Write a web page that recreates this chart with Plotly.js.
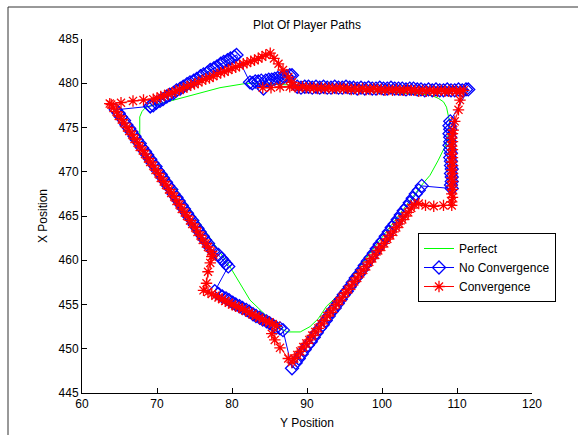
<!DOCTYPE html>
<html>
<head>
<meta charset="utf-8">
<script src="https://cdn.plot.ly/plotly-3.0.1.min.js"></script>
<style>
html,body{margin:0;padding:0;background:#fff;}
#chart{width:578px;height:435px;}
</style>
</head>
<body>
<div id="chart"></div>
<script>
// ---- data ----
const seriesNames = ["Perfect", "No Convergence", "Convergence"];

const perfectX = [67.7,67.7,67.7,68.0,68.4,69.0,70.0,74.0,78.4,82.0,88.0,98.0,102.8,106.4,107.5,108.2,108.6,108.8,109.0,108.9,108.6,107.5,106.4,105.3,94.2,92.6,91.5,90.4,89.1,87.3,86.2,85.1,83.7,82.4,79.7,67.7];
const perfectY = [474.0,475.2,476.2,476.8,477.2,477.45,477.6,478.5,479.5,480.0,479.8,479.1,478.9,478.7,478.3,477.9,477.3,476.6,475.7,474.5,473.2,471.3,469.6,468.5,456.1,454.8,453.4,452.5,451.9,451.9,452.5,453.3,454.4,455.5,459.3,474.0];

const noConvX = [
 69.1,69.5,69.9,70.4,70.8,71.3,71.7,72.2,72.6,73.1,73.5,74.0,74.4,74.9,75.3,75.8,76.2,76.7,77.1,77.6,78.0,78.5,78.9,79.4,79.8,80.3,80.6,
 82.4,82.7,83.1,83.5,83.9,84.2,84.5,84.9,85.3,85.7,86.1,86.5,86.9,87.3,87.7,88.0,
 88.7,89.2,89.7,90.2,90.7,91.2,91.7,92.2,92.7,93.2,93.7,94.2,94.7,95.2,95.7,96.2,96.7,97.2,97.7,98.2,98.7,99.2,99.7,100.2,100.7,101.2,101.7,102.2,102.7,103.2,103.7,104.2,104.7,105.2,105.7,106.2,106.7,107.2,107.7,108.2,108.7,109.2,109.7,110.2,110.7,111.2,111.5,
 109.1,109.0,109.1,109.0,109.1,109.1,109.0,109.1,109.2,109.1,109.2,109.2,109.3,109.2,109.3,109.3,109.2,109.3,
 105.3,104.9,104.5,104.1,103.7,103.3,102.9,102.5,102.1,101.7,101.3,100.9,100.5,100.1,99.7,99.3,98.9,98.5,98.1,97.7,97.3,96.9,96.5,96.1,95.7,95.3,94.9,94.5,94.1,93.7,93.3,92.9,92.5,92.1,91.7,91.3,90.9,90.5,90.1,89.7,89.3,88.9,88.5,88.0,
 86.8,86.4,85.9,85.5,85.0,84.6,84.1,83.7,83.2,82.8,82.3,81.9,81.4,81.0,80.5,80.1,79.6,79.2,78.7,78.2,77.7,
 79.5,79.2,78.9,78.6,78.2,
 77.5,77.1,76.8,76.4,76.1,75.7,75.4,75.0,74.7,74.3,74.0,73.6,73.3,72.9,72.6,72.2,71.9,71.5,71.2,70.8,70.5,70.1,69.8,69.4,69.1,68.7,68.4,68.0,67.7,67.3,67.0,66.6,66.3,65.9,65.6,65.2,64.9,64.5,
 69.1];
const noConvY = [
 477.4,477.5,477.8,478.0,478.2,478.5,478.7,478.9,479.2,479.4,479.6,479.9,480.1,480.3,480.5,480.8,481.0,481.2,481.5,481.7,481.9,482.2,482.4,482.6,482.8,483.0,483.2,
 480.1,480.0,480.2,480.2,480.3,479.4,480.3,480.4,480.4,480.5,480.6,480.6,480.7,480.8,480.9,480.9,
 479.6,479.5,479.6,479.6,479.5,479.6,479.5,479.6,479.5,479.5,479.6,479.5,479.5,479.6,479.5,479.5,479.4,479.5,479.4,479.5,479.4,479.4,479.5,479.4,479.4,479.5,479.4,479.4,479.4,479.3,479.4,479.4,479.3,479.3,479.2,479.3,479.2,479.3,479.2,479.2,479.3,479.2,479.2,479.3,479.2,479.3,479.3,
 475.7,475.2,474.8,474.3,473.9,473.4,473.0,472.5,472.1,471.6,471.2,470.7,470.3,469.8,469.4,468.9,468.5,468.1,
 468.4,467.9,467.5,467.0,466.5,466.0,465.6,465.1,464.6,464.1,463.7,463.2,462.7,462.2,461.8,461.3,460.8,460.3,459.9,459.4,458.9,458.4,458.0,457.5,457.0,456.5,456.1,455.6,455.1,454.6,454.2,453.7,453.2,452.7,452.3,451.8,451.3,450.8,450.4,449.9,449.4,448.9,448.4,447.8,
 452.1,452.3,452.4,452.6,452.9,453.1,453.3,453.5,453.7,453.9,454.2,454.4,454.6,454.8,455.0,455.2,455.5,455.7,455.9,456.2,456.5,
 459.3,459.6,459.9,460.2,460.6,
 461.0,461.4,461.9,462.3,462.7,463.2,463.6,464.0,464.5,464.9,465.3,465.8,466.2,466.7,467.1,467.5,468.0,468.4,468.8,469.3,469.7,470.1,470.6,471.0,471.4,471.9,472.3,472.7,473.2,473.6,474.0,474.5,474.9,475.3,475.8,476.2,476.6,477.0,
 477.4];

const convX = [
 63.7,65.2,66.8,68.2,69.5,
 70.0,70.5,71.0,71.5,72.0,72.5,73.0,73.5,74.0,74.5,75.0,75.5,76.0,76.5,77.0,77.5,78.0,78.5,79.0,79.5,80.0,80.5,81.0,81.5,82.0,82.5,83.0,83.5,84.0,84.5,85.1,
 85.6,86.2,86.8,87.5,88.0,
 87.7,86.4,85.2,84.1,
 88.4,88.9,89.4,89.9,90.4,90.9,91.4,91.9,92.4,92.9,93.4,93.9,94.4,94.9,95.4,95.9,96.4,96.9,97.4,97.9,98.4,98.9,99.4,99.9,100.4,100.9,101.4,101.9,102.4,102.9,103.4,103.9,104.4,104.9,105.4,105.9,106.4,106.9,107.4,107.9,108.4,108.9,109.4,109.9,110.4,110.9,
 110.4,110.2,109.7,109.5,
 109.4,109.3,109.4,109.3,109.4,109.3,109.4,109.3,109.4,109.3,109.4,109.3,109.4,109.3,109.4,109.3,109.4,109.3,109.3,
 108.2,106.9,105.8,104.9,
 104.3,103.9,103.5,103.1,102.7,102.3,101.9,101.5,101.1,100.7,100.3,99.9,99.5,99.1,98.7,98.3,97.9,97.5,97.1,96.7,96.3,95.9,95.5,95.1,94.7,94.3,93.9,93.5,93.1,92.7,92.3,91.9,91.5,91.1,90.7,90.3,89.9,89.5,89.1,88.7,88.3,88.0,
 87.5,86.4,85.7,85.3,
 85.9,85.4,85.0,84.5,84.1,83.6,83.2,82.7,82.3,81.8,81.4,80.9,80.5,80.0,79.6,79.1,78.7,78.2,77.8,77.3,76.8,76.2,
 76.6,76.8,77.1,77.3,
 77.5,77.2,76.8,76.5,76.1,75.8,75.4,75.1,74.7,74.4,74.0,73.7,73.3,73.0,72.6,72.3,71.9,71.6,71.2,70.9,70.5,70.2,69.8,69.5,69.1,68.8,68.4,68.1,67.7,67.4,67.0,66.7,66.3,66.0,65.6,65.3,64.9,64.6,64.2,63.9];
const convY = [
 477.7,477.8,478.0,478.1,478.2,
 478.3,478.5,478.6,478.8,478.9,479.1,479.3,479.4,479.6,479.8,479.9,480.1,480.3,480.5,480.6,480.8,481.0,481.2,481.3,481.5,481.7,481.8,482.0,482.2,482.3,482.5,482.6,482.8,483.0,483.2,483.4,
 482.8,482.2,481.5,480.7,480.1,
 479.6,479.6,479.5,479.5,
 479.6,479.5,479.6,479.5,479.5,479.5,479.4,479.5,479.4,479.5,479.4,479.4,479.5,479.4,479.4,479.3,479.4,479.3,479.4,479.3,479.3,479.4,479.3,479.3,479.2,479.3,479.2,479.3,479.2,479.2,479.3,479.2,479.2,479.1,479.2,479.1,479.2,479.1,479.1,479.2,479.1,479.1,479.2,479.1,479.1,479.2,
 478.1,477.0,475.7,474.7,
 474.3,473.8,473.4,472.9,472.5,472.0,471.6,471.1,470.7,470.2,469.8,469.3,468.9,468.4,468.0,467.5,467.1,466.6,466.2,
 466.2,466.1,466.2,466.4,
 466.3,465.9,465.4,465.0,464.6,464.1,463.7,463.2,462.8,462.4,461.9,461.5,461.1,460.6,460.2,459.8,459.3,458.9,458.5,458.0,457.6,457.1,456.7,456.3,455.8,455.4,455.0,454.5,454.1,453.7,453.2,452.8,452.3,451.9,451.5,451.0,450.6,450.2,449.7,449.3,448.9,448.5,
 448.9,450.1,451.0,451.7,
 452.6,452.8,453.0,453.1,453.3,453.5,453.7,453.9,454.1,454.3,454.5,454.7,454.8,455.0,455.2,455.4,455.6,455.8,456.0,456.2,456.4,456.6,
 457.4,458.7,459.7,460.4,
 460.6,461.0,461.5,461.9,462.3,462.8,463.2,463.7,464.1,464.5,465.0,465.4,465.8,466.3,466.7,467.2,467.6,468.0,468.5,468.9,469.3,469.8,470.2,470.7,471.1,471.5,472.0,472.4,472.8,473.3,473.7,474.2,474.6,475.0,475.5,475.9,476.3,476.8,477.2,477.6];

const xTicks = [60,70,80,90,100,110,120];
const yTicks = [445,450,455,460,465,470,475,480,485];

// ---- chart ----
const FONT = '"Liberation Sans", Arial, sans-serif';
const traces = [
  {x: perfectX, y: perfectY, name: seriesNames[0], mode: 'lines', type: 'scatter',
   line: {color: '#00ff00', width: 1}},
  {x: noConvX, y: noConvY, name: seriesNames[1], mode: 'lines+markers', type: 'scatter',
   line: {color: '#0000ff', width: 1},
   marker: {symbol: 'diamond-open', size: 10, color: '#0000ff', line: {width: 1.3, color: '#0000ff'}}},
  {x: convX, y: convY, name: seriesNames[2], mode: 'lines+markers', type: 'scatter',
   line: {color: '#ff0000', width: 1},
   marker: {symbol: 'asterisk-open', size: 9.5, color: '#ff0000', line: {width: 1.3, color: '#ff0000'}}}
];

const layout = {
  width: 578, height: 435,
  margin: {l: 82, r: 46, t: 39, b: 42, autoexpand: false},
  paper_bgcolor: '#ffffff', plot_bgcolor: '#ffffff',
  font: {family: FONT, size: 12, color: '#000'},
  showlegend: true,
  title: {text: 'Plot Of Player Paths', font: {family: FONT, size: 12, color: '#000'},
          x: 0.5, xref: 'paper', y: 1 - 25/435, yref: 'container', yanchor: 'middle'},
  xaxis: {range: [60, 120], tickvals: xTicks, ticktext: xTicks.map(String),
          ticks: 'inside', ticklen: 5, tickcolor: '#000', showline: true, linecolor: '#000', linewidth: 1,
          showgrid: false, zeroline: false, mirror: false, automargin: false,
          tickfont: {family: FONT, size: 12, color: '#000'},
          title: {text: 'Y Position', font: {family: FONT, size: 12, color: '#000'}, standoff: 8}},
  yaxis: {range: [445, 485], tickvals: yTicks, ticktext: yTicks.map(String),
          ticks: 'inside', ticklen: 5, tickcolor: '#000', showline: true, linecolor: '#000', linewidth: 1,
          showgrid: false, zeroline: false, mirror: false, automargin: false,
          tickfont: {family: FONT, size: 12, color: '#000'},
          title: {text: 'X Position', font: {family: FONT, size: 12, color: '#000'}, standoff: 8}},
  legend: {x: (418-82)/450, y: 1 - (233-39)/354, xanchor: 'left', yanchor: 'top',
           bgcolor: '#ffffff', bordercolor: '#000', borderwidth: 1,
           font: {family: FONT, size: 12, color: '#000'}, tracegroupgap: 0, itemwidth: 30},
  shapes: [
    {type: 'rect', xref: 'paper', yref: 'paper', x0: (8-82)/450, x1: 1.3, y0: -0.3, y1: 1 + (39-7)/354,
     line: {color: '#333', width: 1}, fillcolor: 'rgba(0,0,0,0)', layer: 'below'}
  ]
};

Plotly.newPlot('chart', traces, layout, {displayModeBar: false, staticPlot: true});
</script>
</body>
</html>
